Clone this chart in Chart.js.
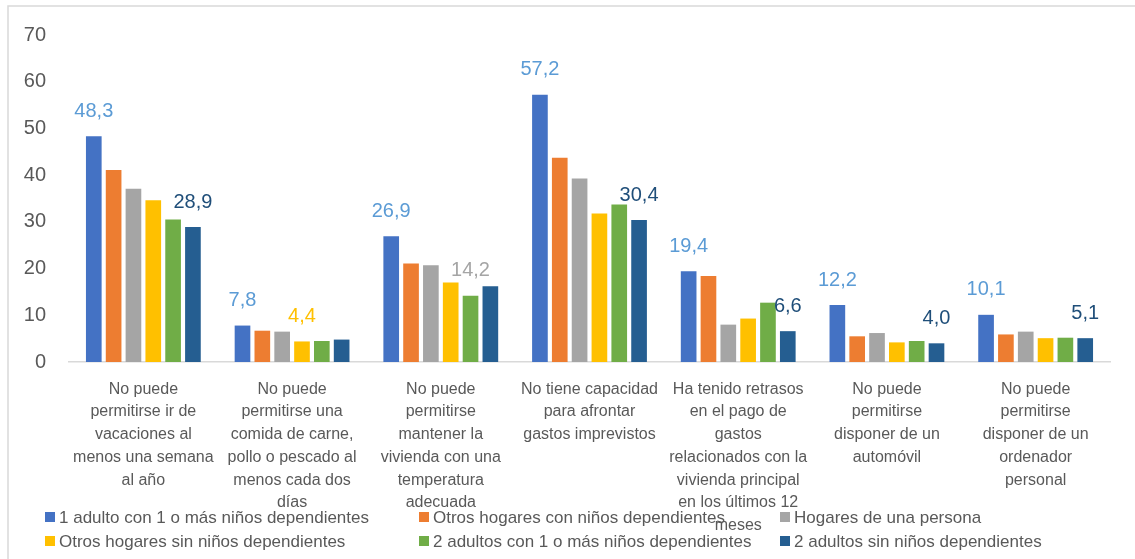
<!DOCTYPE html>
<html>
<head>
<meta charset="utf-8">
<script src="https://cdn.jsdelivr.net/npm/chart.js@4.4.0/dist/chart.umd.min.js"></script>
<style>
body{margin:0;background:#fff}
#wrap{width:1135px;height:559px}
</style>
</head>
<body>
<div id="wrap"><canvas id="carencias" width="1135" height="559"></canvas></div>
<script>
const categories = [
["No puede","permitirse ir de","vacaciones al","menos una semana","al año"],
["No puede","permitirse una","comida de carne,","pollo o pescado al","menos cada dos","días"],
["No puede","permitirse","mantener la","vivienda con una","temperatura","adecuada"],
["No tiene capacidad","para afrontar","gastos imprevistos"],
["Ha tenido retrasos","en el pago de","gastos","relacionados con la","vivienda principal","en los últimos 12","meses"],
["No puede","permitirse","disponer de un","automóvil"],
["No puede","permitirse","disponer de un","ordenador","personal"]
]

const seriesNames = [
"1 adulto con 1 o más niños dependientes",
"Otros hogares con niños dependientes",
"Hogares de una persona",
"Otros hogares sin niños dependientes",
"2 adultos con 1 o más niños dependientes",
"2 adultos sin niños dependientes"
]

const unAdultoConNinos = [48.3, 7.8, 26.9, 57.2, 19.4, 12.2, 10.1]
const otrosConNinos = [41.1, 6.7, 21.1, 43.7, 18.4, 5.5, 5.9]
const unaPersona = [37.1, 6.5, 20.7, 39.3, 8.0, 6.2, 6.5]
const otrosSinNinos = [34.6, 4.4, 17.0, 31.8, 9.3, 4.2, 5.1]
const dosAdultosConNinos = [30.5, 4.5, 14.2, 33.7, 12.7, 4.5, 5.2]
const dosAdultosSinNinos = [28.9, 4.8, 16.2, 30.4, 6.6, 4.0, 5.1]

const yTicks = [0, 10, 20, 30, 40, 50, 60, 70]

// which series carries the second value label in each group
const secondLabelSeries = [5, 3, 4, 5, 5, 5, 5]

const colors = ["#4472C4","#ED7D31","#A5A5A5","#FFC000","#70AD47","#255E91"]
const labelColors = ["#5B9BD5","#ED7D31","#A5A5A5","#FFC000","#A5A5A5","#1F4E79"]
const FONT = '"Liberation Sans", Arial, sans-serif'
const TEXT = "#595959"

const allSeries = [unAdultoConNinos, otrosConNinos, unaPersona, otrosSinNinos, dosAdultosConNinos, dosAdultosSinNinos]

const fmt = v => v.toFixed(1).replace(".", ",")

const frame = {
id:"frame",
beforeDraw(chart){
const ctx = chart.ctx
ctx.save()
ctx.strokeStyle = "#D9D9D9"
ctx.lineWidth = 1.5
ctx.beginPath()
ctx.moveTo(8, 559)
ctx.lineTo(8, 6)
ctx.lineTo(1135, 6)
ctx.stroke()
ctx.restore()
}
}

const valueLabels = {
id:"valueLabels",
afterDatasetsDraw(chart){
const ctx = chart.ctx
ctx.save()
ctx.font = "20px " + FONT
ctx.textAlign = "center"
ctx.textBaseline = "middle"
categories.forEach((c, i) => {
const picks = [0, secondLabelSeries[i]]
picks.forEach(s => {
const bar = chart.getDatasetMeta(s).data[i]
ctx.fillStyle = s === 0 ? labelColors[0] : (i === 2 ? "#A5A5A5" : labelColors[s])
ctx.fillText(fmt(allSeries[s][i]), bar.x, bar.y - 25)
})
})
ctx.restore()
}
}

const gridLegend = {
id:"gridLegend",
afterDraw(chart){
const ctx = chart.ctx
const colX = [45, 419, 780]
const rowY = [517, 541]
ctx.save()
ctx.font = "17px " + FONT
ctx.textAlign = "left"
ctx.textBaseline = "middle"
chart.data.datasets.forEach((ds, i) => {
const x = colX[i % 3]
const y = rowY[Math.floor(i / 3)]
ctx.fillStyle = ds.backgroundColor
ctx.fillRect(x, y - 5, 10, 10)
ctx.fillStyle = TEXT
ctx.fillText(ds.label, x + 14, y + 1)
})
ctx.restore()
}
}

const ctx = document.getElementById("carencias").getContext("2d")

new Chart(ctx,{

type:"bar",

data:{
labels:categories,
datasets:allSeries.map((d, i) => ({
label:seriesNames[i],
data:d,
backgroundColor:colors[i],
categoryPercentage:0.80,
barPercentage:0.79
}))
},

options:{
responsive:false,
animation:false,
layout:{padding:{left:10, right:25, top:32, bottom:12}},
plugins:{
legend:{display:false},
tooltip:{enabled:false}
},
scales:{
x:{
grid:{display:false, drawTicks:false},
border:{display:true, color:"#D9D9D9", width:1.5},
ticks:{
color:TEXT,
font:{family:FONT, size:16, lineHeight:1.42},
padding:16,
maxRotation:0,
autoSkip:false
},
afterFit(axis){ axis.height = 185 }
},
y:{
min:0,
max:70,
grid:{display:false, drawTicks:false},
border:{display:false},
afterBuildTicks(axis){ axis.ticks = yTicks.map(v => ({value:v})) },
ticks:{
color:TEXT,
font:{family:FONT, size:20},
padding:23
},
afterFit(axis){ axis.width = 59 }
}
}
},

plugins:[frame, valueLabels, gridLegend]

})
</script>
</body>
</html>
